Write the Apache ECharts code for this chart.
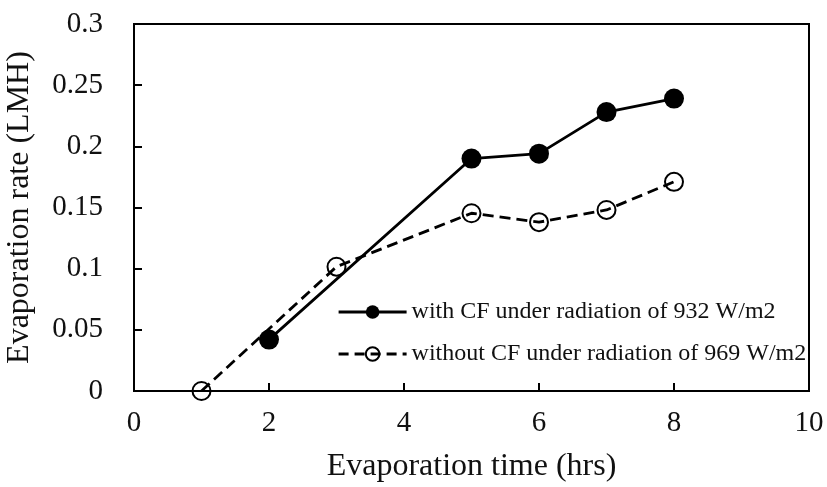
<!DOCTYPE html>
<html><head><meta charset="utf-8">
<script src="https://cdn.jsdelivr.net/npm/echarts@6/dist/echarts.min.js"></script>
<style>html,body{margin:0;padding:0;background:#fff}#c{width:827px;height:487px}</style>
</head><body><div id="c"></div>
<script>
const seriesNames = ['with CF under radiation of 932 W/m2', 'without CF under radiation of 969 W/m2'];
const withCF_x = [2, 5, 6, 7, 8];
const withCF_y = [0.042, 0.190, 0.194, 0.228, 0.239];
const withoutCF_x = [1, 3, 5, 6, 7, 8];
const withoutCF_y = [0, 0.1016, 0.1453, 0.138, 0.148, 0.171];
const xTicks = [0, 2, 4, 6, 8, 10];
const yTicks = [0, 0.05, 0.1, 0.15, 0.2, 0.25, 0.3];

const font = '"Liberation Serif", "Times New Roman", serif';
const chart = echarts.init(document.getElementById('c'));
const pair = (xs, ys) => xs.map((x, i) => [x, ys[i]]);
chart.setOption({
  animation: false,
  grid: { left: 134, right: 18, top: 24, bottom: 96, show: true, borderColor: '#000', borderWidth: 2,
    outerBoundsMode: 'none', containLabel: false },
  legend: {
    left: 332, top: 295, orient: 'vertical', itemGap: 18, itemWidth: 68, itemHeight: 17,
    textStyle: { fontFamily: font, fontSize: 24, color: '#111' },
    data: [
      { name: seriesNames[0], lineStyle: { width: 3.2 } },
      { name: seriesNames[1], lineStyle: { width: 3.2, type: [10, 6] } }
    ]
  },
  xAxis: {
    type: 'value', min: 0, max: 10, interval: 2,
    name: 'Evaporation time (hrs)', nameLocation: 'middle', nameGap: 60,
    nameTextStyle: { fontFamily: font, fontSize: 32, color: '#111' },
    axisLine: { lineStyle: { color: '#000', width: 2 } },
    axisTick: { inside: true, length: 8, lineStyle: { color: '#000', width: 2 } },
    axisLabel: { fontFamily: font, fontSize: 29, color: '#111', margin: 18,
      formatter: v => xTicks.includes(v) ? String(v) : '' },
    splitLine: { show: false }
  },
  yAxis: {
    type: 'value', min: 0, max: 0.3, interval: 0.05,
    name: 'Evaporation rate (LMH)', nameLocation: 'middle', nameGap: 98,
    nameTextStyle: { fontFamily: font, fontSize: 32, color: '#111' },
    axisLine: { lineStyle: { color: '#000', width: 2 } },
    axisTick: { inside: true, length: 8, lineStyle: { color: '#000', width: 2 } },
    axisLabel: { fontFamily: font, fontSize: 29, color: '#111', margin: 31,
      formatter: v => { const t = yTicks.find(y => Math.abs(y - v) < 1e-9); return t === undefined ? '' : String(t); } },
    splitLine: { show: false }
  },
  series: [
    {
      name: seriesNames[0], type: 'line', data: pair(withCF_x, withCF_y),
      symbol: 'circle', symbolSize: 20,
      lineStyle: { color: '#000', width: 2.8 },
      itemStyle: { color: '#000', borderColor: '#000', borderWidth: 0 }
    },
    {
      name: seriesNames[1], type: 'line', data: pair(withoutCF_x, withoutCF_y),
      symbol: 'circle', symbolSize: 18,
      lineStyle: { color: '#000', width: 2.8, type: [11, 6] },
      itemStyle: { color: 'rgba(255,255,255,0)', borderColor: '#000', borderWidth: 2 }
    }
  ]
});
</script></body></html>
